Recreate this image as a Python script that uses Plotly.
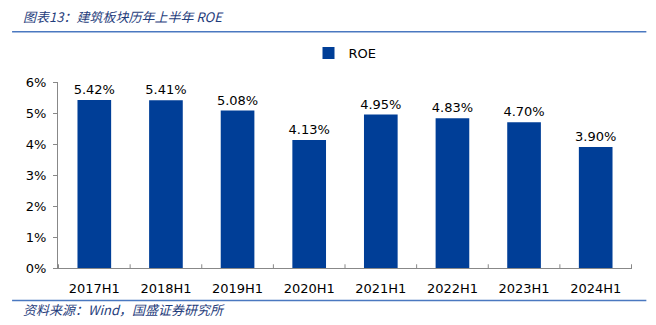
import plotly.graph_objects as go

categories = ["2017H1", "2018H1", "2019H1", "2020H1", "2021H1", "2022H1", "2023H1", "2024H1"]
roe = [5.42, 5.41, 5.08, 4.13, 4.95, 4.83, 4.70, 3.90]
yticks = [0, 1, 2, 3, 4, 5, 6]
ytick_labels = [f"{v}%" for v in yticks]
title_text = "图表13：建筑板块历年上半年 ROE"
source_text = "资料来源：Wind，国盛证券研究所"

bar_color = "#003E97"
navy = "#1F3D7C"
line_color = "#4A78C0"

fig = go.Figure()
fig.add_trace(go.Bar(
    x=categories, y=roe, name="ROE",
    marker=dict(color=bar_color, line=dict(width=0)),
    text=[f"{v:.2f}%" for v in roe], textposition="outside",
    textfont=dict(family="DejaVu Sans", size=13, color="#000000"),
    constraintext="none",
    cliponaxis=False,
))

fig.update_layout(
    width=656, height=325,
    margin=dict(l=58, r=24, t=82, b=57),
    paper_bgcolor="white", plot_bgcolor="white",
    bargap=0.53,
    showlegend=True,
    legend=dict(orientation="h", x=0.5, xanchor="center", y=1.155, yanchor="middle",
                bgcolor="rgba(0,0,0,0)",
                font=dict(family="DejaVu Sans", size=13, color="#000000"),
                itemwidth=30),
    font=dict(family="DejaVu Sans", size=12, color="#000000"),
    xaxis=dict(showline=True, linecolor="#888888", linewidth=1, ticks="",
               tickfont=dict(size=13), ticklabelstandoff=8, fixedrange=True),
    yaxis=dict(range=[0, 6], tickvals=yticks, ticktext=ytick_labels,
               showline=True, linecolor="#888888", linewidth=1,
               ticks="outside", ticklen=4, tickcolor="#888888",
               ticklabelstandoff=4,
               showgrid=False, zeroline=False, tickfont=dict(size=13)),
    shapes=[
        dict(type="line", xref="paper", yref="paper", x0=-0.08, x1=1.025, y0=1.27, y1=1.27,
             line=dict(color=line_color, width=1.5)),
        dict(type="line", xref="paper", yref="paper", x0=-0.08, x1=1.025, y0=-0.175, y1=-0.175,
             line=dict(color=line_color, width=1.5)),
    ],
    annotations=[
        dict(text=f"<i>{title_text}</i>", xref="paper", yref="paper", x=-0.065, y=1.35,
             xanchor="left", yanchor="middle", showarrow=False,
             font=dict(family="Noto Sans CJK SC", size=13, color=navy)),
        dict(text=f"<i>{source_text}</i>", xref="paper", yref="paper", x=-0.065, y=-0.225,
             xanchor="left", yanchor="middle", showarrow=False,
             font=dict(family="Noto Sans CJK SC", size=13, color=navy)),
    ],
)

# x-axis tick separators between categories
for i in range(len(categories) + 1):
    fig.add_shape(type="line", xref="x", yref="paper", x0=i - 0.5, x1=i - 0.5, y0=0, y1=0.02,
                  line=dict(color="#888888", width=1))

fig.write_html("out.html")
